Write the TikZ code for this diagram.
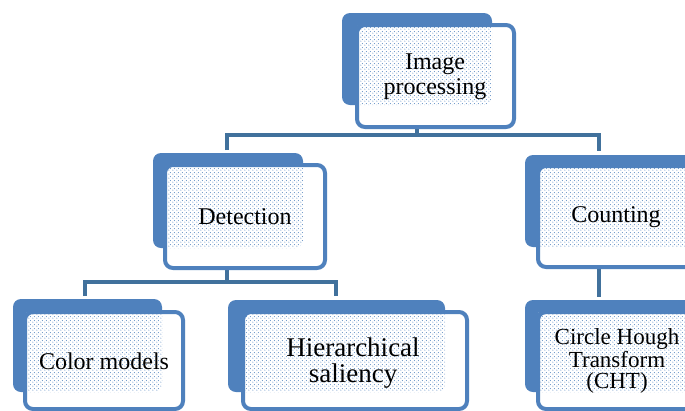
\documentclass[tikz,border=0pt]{standalone}
\usepackage{fontspec}
\setmainfont{Liberation Serif}
\usetikzlibrary{patterns.meta}
\definecolor{boxblue}{HTML}{4F81BD}
\definecolor{linkblue}{HTML}{41719C}
\tikzdeclarepattern{
  name=bluedots, type=uncolored,
  bounding box={(0pt,0pt) and (4pt,4pt)},
  tile size={(4pt,4pt)},
  code={
    \fill (1pt,1pt) circle (0.65pt);
    \fill (3pt,3pt) circle (0.65pt);
  }
}
\newcommand\boxpair[8]{%
  \fill[boxblue, rounded corners=8pt] (#1,#2) rectangle (#3,#4);
  \fill[white, rounded corners=8pt] (#5,#6) rectangle (#7,#8);
  \begin{scope}
    \clip[rounded corners=8pt] (#1,#2) rectangle (#3,#4);
    \fill[pattern=bluedots, pattern color=boxblue!85] (#5,#6) rectangle (#7,#8);
  \end{scope}
  \draw[boxblue, line width=4pt, rounded corners=8pt] (#5,#6) rectangle (#7,#8);
}
\begin{document}
\begin{tikzpicture}[x=1pt,y=-1pt,
  link/.style={linkblue, line width=4pt},
  lbl/.style={align=center, inner sep=0pt, text=black},
  f24/.style={font=\fontsize{24}{25}\selectfont},
  f27/.style={font=\fontsize{27}{26}\selectfont},
  f24t/.style={font=\fontsize{23}{21}\selectfont}]
\useasboundingbox (0,0) rectangle (685,410);
\clip (0,0) rectangle (685,410);
\fill[white] (0,0) rectangle (685,410);
% connector coordinates
\coordinate (imgS) at (417,127);
\coordinate (j1) at (417,135);
\coordinate (detT) at (227,150);
\coordinate (cntT) at (599,151);
\coordinate (detS) at (227,268);
\coordinate (j2) at (227,282);
\coordinate (colT) at (85,296);
\coordinate (hieT) at (336,296);
\coordinate (cntS) at (599,267);
\coordinate (chtT) at (599,297);
% connectors
\draw[link] (detT) -- (detT |- j1) -- (cntT |- j1) -- (cntT);
\draw[link] (imgS) -- (j1);
\draw[link] (colT) -- (colT |- j2) -- (hieT |- j2) -- (hieT);
\draw[link] (detS) -- (j2);
\draw[link] (cntS) -- (chtT);
% boxes
\boxpair{342}{13}{492}{105}{357}{25}{514}{127}
\boxpair{153}{153}{303}{248}{165}{165}{325}{268}
\boxpair{525}{155}{705}{247}{538}{166}{712}{267}
\boxpair{13}{299}{162}{392}{25}{312}{183}{409}
\boxpair{228}{300}{445}{392}{243}{312}{467}{409}
\boxpair{525}{300}{705}{392}{538}{312}{712}{409}
% labels
\node[lbl,f24] (img) at (435,77) {Image\\processing};
\node[lbl,f24] (det) at (245,217) {Detection};
\node[lbl,f24] (cnt) at (616,217) {Counting};
\node[lbl,f24] (col) at (104,361) {Color models};
\node[lbl,f27] (hie) at (353,363) {Hierarchical\\saliency};
\node[lbl,f24t] (cht) at (617,361) {Circle Hough\\Transform\\(CHT)};
\end{tikzpicture}
\end{document}
